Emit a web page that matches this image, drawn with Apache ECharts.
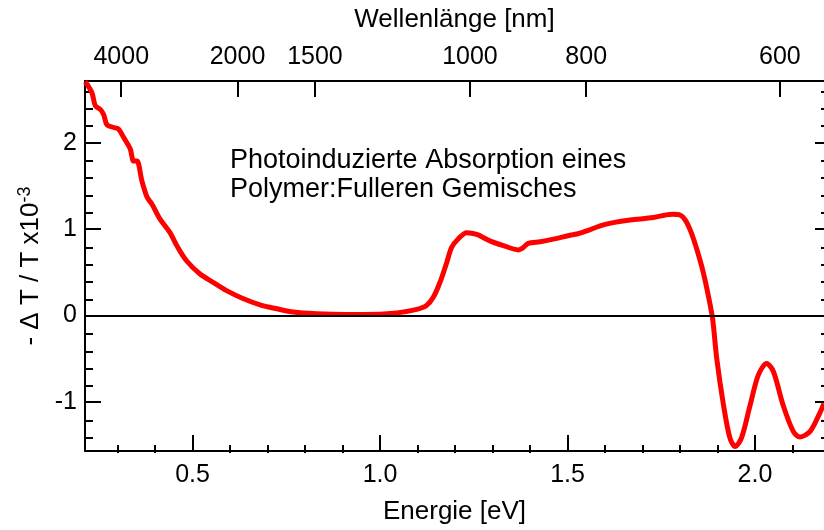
<!DOCTYPE html>
<html>
<head>
<meta charset="utf-8">
<script src="https://cdn.jsdelivr.net/npm/echarts@6/dist/echarts.min.js"></script>
<style>html,body{margin:0;padding:0;background:#fff;}#c{width:824px;height:530px;}</style>
</head>
<body>
<div id="c"></div>
<script>
// Energy (eV) and signal (-dT/T x10^-3)
const energy = [0.213,0.219,0.232,0.241,0.254,0.263,0.272,0.290,0.303,0.317,0.334,0.343,0.352,0.365,0.379,0.392,0.413,0.440,0.458,0.484,0.520,0.555,0.591,0.636,0.680,0.725,0.769,0.831,0.911,0.955,1.045,1.098,1.124,1.142,1.160,1.178,1.191,1.209,1.231,1.258,1.293,1.329,1.369,1.380,1.395,1.427,1.462,1.507,1.525,1.551,1.587,1.622,1.667,1.729,1.755,1.782,1.800,1.815,1.830,1.846,1.862,1.876,1.887,1.898,1.916,1.933,1.947,1.964,1.987,2.009,2.031,2.049,2.075,2.102,2.120,2.147,2.173,2.184];
const signal = [2.71,2.68,2.58,2.43,2.39,2.33,2.21,2.18,2.16,2.06,1.93,1.79,1.79,1.56,1.37,1.29,1.12,0.96,0.81,0.634,0.48,0.385,0.288,0.193,0.123,0.077,0.039,0.02,0.012,0.012,0.03,0.07,0.115,0.21,0.385,0.615,0.79,0.89,0.96,0.94,0.865,0.81,0.76,0.78,0.835,0.855,0.885,0.93,0.945,0.98,1.04,1.077,1.107,1.135,1.16,1.173,1.165,1.10,0.96,0.75,0.50,0.22,-0.04,-0.50,-1.04,-1.42,-1.52,-1.42,-1.04,-0.69,-0.557,-0.65,-1.04,-1.345,-1.41,-1.345,-1.13,-1.02];
// Axis ticks
const energyMajor = [0.5,1.0,1.5,2.0];
const energyMinor = [0.3,0.4,0.6,0.7,0.8,0.9,1.1,1.2,1.3,1.4,1.6,1.7,1.8,1.9,2.1];
const wavelengthTicks = [4000,2000,1500,1000,800,600];
const signalMajor = [-1,0,1,2];
const signalMinor = [-1.4,-1.2,-0.8,-0.6,-0.4,-0.2,0.2,0.4,0.6,0.8,1.2,1.4,1.6,1.8,2.2,2.4,2.6];

const xMin = 0.2133, xMax = 2.184, yMin = -1.572, yMax = 2.719;
const HC = 1239.84;
const wlE = wavelengthTicks.map(l => HC / l);
const FONT = 'Liberation Sans, Arial, sans-serif';
const blk = '#000';
const data = energy.map((e, i) => [e, signal[i]]);

const chart = echarts.init(document.getElementById('c'));
const gridRect = {left: 85, right: 0, top: 81, bottom: 77, containLabel: false};
chart.setOption({
  animation: false,
  grid: [Object.assign({}, gridRect), Object.assign({}, gridRect)],
  xAxis: [
    {gridIndex: 0, type: 'value', position: 'bottom', min: xMin, max: xMax,
     name: 'Energie [eV]', nameLocation: 'middle', nameGap: 48,
     nameTextStyle: {fontFamily: FONT, fontSize: 26, color: blk},
     axisLine: {show: true, onZero: false, lineStyle: {color: blk, width: 2}},
     axisTick: {show: true, inside: true, length: 16, customValues: energyMajor, lineStyle: {color: blk, width: 2}},
     axisLabel: {show: true, customValues: energyMajor, formatter: v => v.toFixed(1), margin: 12, fontFamily: FONT, fontSize: 25, color: blk},
     splitLine: {show: false}},
    {gridIndex: 0, type: 'value', position: 'top', min: xMin, max: xMax,
     name: 'Wellenlänge [nm]', nameLocation: 'middle', nameGap: 48,
     nameTextStyle: {fontFamily: FONT, fontSize: 26, color: blk},
     axisLine: {show: true, onZero: false, lineStyle: {color: blk, width: 2}},
     axisTick: {show: true, inside: true, length: 16, customValues: wlE, lineStyle: {color: blk, width: 2}},
     axisLabel: {show: true, customValues: wlE, formatter: v => String(Math.round(HC / v)), margin: 11, fontFamily: FONT, fontSize: 25, color: blk},
     splitLine: {show: false}},
    {gridIndex: 1, type: 'value', position: 'bottom', min: xMin, max: xMax,
     axisLine: {show: false, onZero: false},
     axisTick: {show: true, inside: true, length: 8, customValues: energyMinor, lineStyle: {color: blk, width: 2}},
     axisLabel: {show: false}, splitLine: {show: false}},
    {gridIndex: 1, type: 'value', position: 'top', min: xMin, max: xMax, show: false,
     axisLine: {onZero: false}}
  ],
  yAxis: [
    {gridIndex: 0, type: 'value', position: 'left', min: yMin, max: yMax,
     name: '- Δ T / T x10{sup|-3}', nameLocation: 'middle', nameGap: 35,
     nameTextStyle: {fontFamily: FONT, fontSize: 26, color: blk,
       rich: {sup: {fontFamily: FONT, fontSize: 18, color: blk, padding: [0, 0, 12, 0]}}},
     axisLine: {show: true, onZero: false, lineStyle: {color: blk, width: 2}},
     axisTick: {show: true, inside: true, length: 16, customValues: signalMajor, lineStyle: {color: blk, width: 2}},
     axisLabel: {show: true, customValues: signalMajor, margin: 8, fontFamily: FONT, fontSize: 25, color: blk},
     splitLine: {show: false}},
    {gridIndex: 0, type: 'value', position: 'right', min: yMin, max: yMax,
     axisLine: {show: false, onZero: false},
     axisTick: {show: true, inside: true, length: 9, customValues: signalMajor, lineStyle: {color: blk, width: 2}},
     axisLabel: {show: false}, splitLine: {show: false}},
    {gridIndex: 1, type: 'value', position: 'left', min: yMin, max: yMax,
     axisLine: {show: false, onZero: false},
     axisTick: {show: true, inside: true, length: 8, customValues: signalMinor, lineStyle: {color: blk, width: 2}},
     axisLabel: {show: false}, splitLine: {show: false}},
    {gridIndex: 1, type: 'value', position: 'right', min: yMin, max: yMax,
     axisLine: {show: false, onZero: false},
     axisTick: {show: true, inside: true, length: 3, customValues: signalMinor, lineStyle: {color: blk, width: 2}},
     axisLabel: {show: false}, splitLine: {show: false}}
  ],
  graphic: [{
    type: 'text', left: 230, top: 146, silent: true,
    style: {text: 'Photoinduzierte Absorption eines\nPolymer:Fulleren Gemisches',
      font: '27px ' + FONT, fill: blk, lineHeight: 29}
  }],
  series: [{
    type: 'line', xAxisIndex: 0, yAxisIndex: 0, data: data,
    showSymbol: false, smooth: 0.3, clip: true,
    lineStyle: {color: '#ff0000', width: 5},
    markLine: {silent: true, symbol: ['none', 'none'], label: {show: false},
      lineStyle: {color: blk, width: 2, type: 'solid'},
      data: [{yAxis: 0}], animation: false},
    z: 3
  }]
});
</script>
</body>
</html>
